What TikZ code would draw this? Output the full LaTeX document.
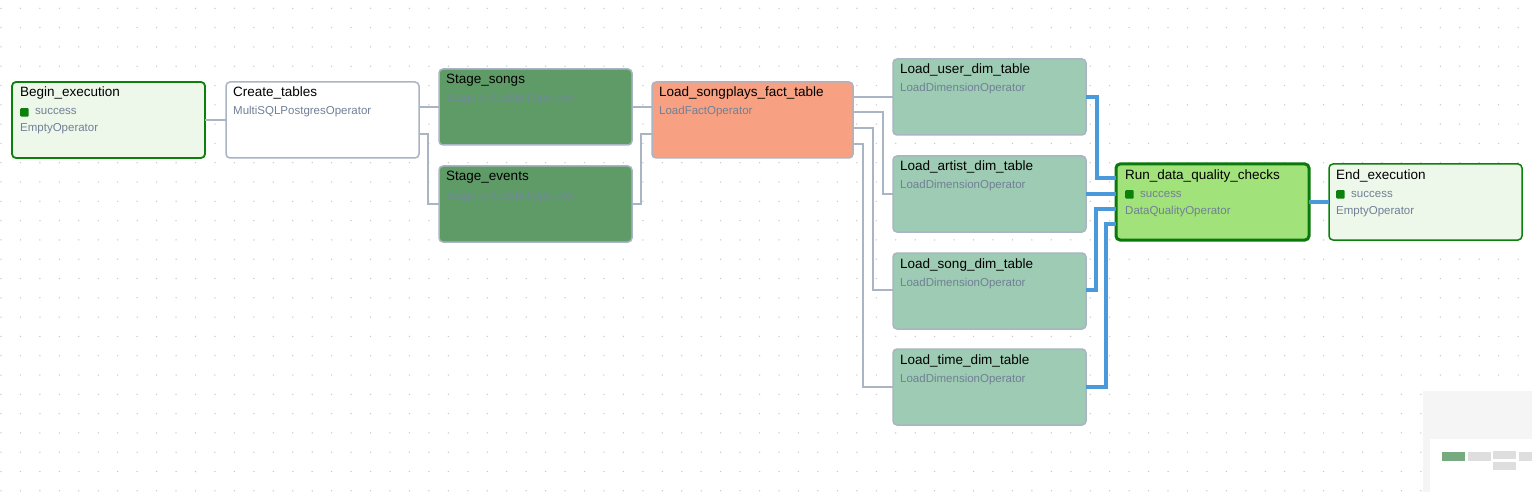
\documentclass[tikz,border=0pt]{standalone}
\usepackage{fontspec}
\setmainfont{Liberation Sans}
\definecolor{edgegrey}{HTML}{A9B4C4}
\definecolor{edgeblue}{HTML}{4A9ADB}
\definecolor{opgrey}{HTML}{718096}
\definecolor{stagefill}{HTML}{5F9B67}
\definecolor{stageop}{HTML}{6E8C96}
\definecolor{factfill}{HTML}{F8A082}
\definecolor{dimfill}{HTML}{9DCBB3}
\definecolor{runfill}{HTML}{A1E27B}
\definecolor{lightfill}{HTML}{EDF8EA}
\definecolor{okgreen}{HTML}{0B800B}
\definecolor{runborder}{HTML}{0A780A}
\definecolor{dotgrey}{HTML}{C8C8C8}
\begin{document}
\begin{tikzpicture}[x=1pt,y=-1pt,
  taskbox/.style={draw=edgegrey,line width=1.5pt,rounded corners=4pt,anchor=north west,
    minimum width=193pt,minimum height=76pt,inner sep=0pt,outer sep=0pt},
  titletext/.style={anchor=base west,inner sep=0pt,font=\fontsize{13.5}{14}\selectfont,text=black},
  optext/.style={anchor=base west,inner sep=0pt,font=\fontsize{11.5}{12}\selectfont,text=opgrey},
  stateicon/.style={fill=okgreen,rounded corners=1pt,minimum size=8.5pt,inner sep=0pt,anchor=north west},
  greyedge/.style={draw=edgegrey,line width=1.8pt},
  blueedge/.style={draw=edgeblue,line width=3.2pt}]
\useasboundingbox (0,0) rectangle (1532,492);
\fill[white] (0,0) rectangle (1532,492);
% dot grid
\foreach \i in {0,...,78}{
  \foreach \j in {0,...,25}{
    \fill[dotgrey] (1+19.45*\i,8.3+19.3*\j) circle (0.75pt);
  }
}
% nodes
\node[taskbox,draw=okgreen,line width=1.8pt,fill=lightfill] (begin) at (12,82) {};
\node[taskbox,fill=white] (create) at (226,82) {};
\node[taskbox,fill=stagefill] (songs) at (439,69) {};
\node[taskbox,fill=stagefill] (events) at (439,166) {};
\node[taskbox,fill=factfill,minimum width=201pt] (fact) at (652,82) {};
\node[taskbox,fill=dimfill] (user) at (893,59) {};
\node[taskbox,fill=dimfill] (artist) at (893,156) {};
\node[taskbox,fill=dimfill] (song) at (893,253) {};
\node[taskbox,fill=dimfill] (time) at (893,349) {};
\node[taskbox,draw=runborder,line width=3pt,fill=runfill] (run) at (1116,164) {};
\node[taskbox,draw=okgreen,line width=1.5pt,fill=lightfill] (end) at (1329,164) {};
% labels
\node[titletext] (begint) at ([xshift=8pt,yshift=-15pt]begin.north west) {Begin\_execution};
\node[stateicon] (begins) at ([xshift=8pt,yshift=-26pt]begin.north west) {};
\node[optext] (beginst) at ([xshift=23pt,yshift=-33pt]begin.north west) {success};
\node[optext] (begino) at ([xshift=8pt,yshift=-50pt]begin.north west) {EmptyOperator};
\node[titletext] (createt) at ([xshift=7pt,yshift=-15pt]create.north west) {Create\_tables};
\node[optext] (createo) at ([xshift=7pt,yshift=-33pt]create.north west) {MultiSQLPostgresOperator};
\node[titletext] (songst) at ([xshift=7pt,yshift=-15pt]songs.north west) {Stage\_songs};
\node[optext,text=stageop] (songso) at ([xshift=7pt,yshift=-33pt]songs.north west) {StageToRedshiftOperator};
\node[titletext] (eventst) at ([xshift=7pt,yshift=-15pt]events.north west) {Stage\_events};
\node[optext,text=stageop] (eventso) at ([xshift=7pt,yshift=-33pt]events.north west) {StageToRedshiftOperator};
\node[titletext] (factt) at ([xshift=7pt,yshift=-15pt]fact.north west) {Load\_songplays\_fact\_table};
\node[optext] (facto) at ([xshift=7pt,yshift=-33pt]fact.north west) {LoadFactOperator};
\node[titletext] (usert) at ([xshift=7pt,yshift=-15pt]user.north west) {Load\_user\_dim\_table};
\node[optext] (usero) at ([xshift=7pt,yshift=-33pt]user.north west) {LoadDimensionOperator};
\node[titletext] (artistt) at ([xshift=7pt,yshift=-15pt]artist.north west) {Load\_artist\_dim\_table};
\node[optext] (artisto) at ([xshift=7pt,yshift=-33pt]artist.north west) {LoadDimensionOperator};
\node[titletext] (songt) at ([xshift=7pt,yshift=-15pt]song.north west) {Load\_song\_dim\_table};
\node[optext] (songo) at ([xshift=7pt,yshift=-33pt]song.north west) {LoadDimensionOperator};
\node[titletext] (timet) at ([xshift=7pt,yshift=-15pt]time.north west) {Load\_time\_dim\_table};
\node[optext] (timeo) at ([xshift=7pt,yshift=-33pt]time.north west) {LoadDimensionOperator};
\node[titletext] (runt) at ([xshift=9pt,yshift=-15pt]run.north west) {Run\_data\_quality\_checks};
\node[stateicon] (runs) at ([xshift=9pt,yshift=-26pt]run.north west) {};
\node[optext] (runst) at ([xshift=24pt,yshift=-33pt]run.north west) {success};
\node[optext] (runo) at ([xshift=9pt,yshift=-50pt]run.north west) {DataQualityOperator};
\node[titletext] (endt) at ([xshift=7pt,yshift=-15pt]end.north west) {End\_execution};
\node[stateicon] (ends) at ([xshift=7pt,yshift=-26pt]end.north west) {};
\node[optext] (endst) at ([xshift=22pt,yshift=-33pt]end.north west) {success};
\node[optext] (endo) at ([xshift=7pt,yshift=-50pt]end.north west) {EmptyOperator};
% grey edges
\draw[greyedge] (begin.east) -- (create.west);
\draw[greyedge] (create.east |- 0,107) -- (songs.west |- 0,107);
\draw[greyedge] (create.east |- 0,134) -- (428,134) -- (428,204) -- (events.west |- 0,204);
\draw[greyedge] (songs.east |- 0,107) -- (fact.west |- 0,107);
\draw[greyedge] (events.east |- 0,204) -- (641,204) -- (641,134) -- (fact.west |- 0,134);
\draw[greyedge] (fact.east |- 0,97) -- (user.west |- 0,97);
\draw[greyedge] (fact.east |- 0,112) -- (883,112) -- (883,194) -- (artist.west |- 0,194);
\draw[greyedge] (fact.east |- 0,128) -- (873,128) -- (873,290) -- (song.west |- 0,290);
\draw[greyedge] (fact.east |- 0,144) -- (863,144) -- (863,387) -- (time.west |- 0,387);
% blue edges
\draw[blueedge] (user.east |- 0,97) -- (1097,97) -- (1097,178) -- (run.west |- 0,178);
\draw[blueedge] (artist.east |- 0,194) -- (run.west |- 0,194);
\draw[blueedge] (song.east |- 0,290) -- (1096,290) -- (1096,209) -- (run.west |- 0,209);
\draw[blueedge] (time.east |- 0,387) -- (1106,387) -- (1106,224) -- (run.west |- 0,224);
\draw[blueedge] (run.east |- 0,202) -- (end.west |- 0,202);
% minimap
\fill[black!4] (1423,391) rectangle (1532,492);
\fill[white] (1430,439) rectangle (1532,492);
\fill[stagefill!85] (1442,452) rectangle (1465,461);
\fill[black!13] (1468,452) rectangle (1491,461);
\fill[black!13] (1493,451) rectangle (1516,459);
\fill[black!13] (1493,462) rectangle (1516,470);
\fill[black!13] (1519,452) rectangle (1532,461);
\end{tikzpicture}
\end{document}
